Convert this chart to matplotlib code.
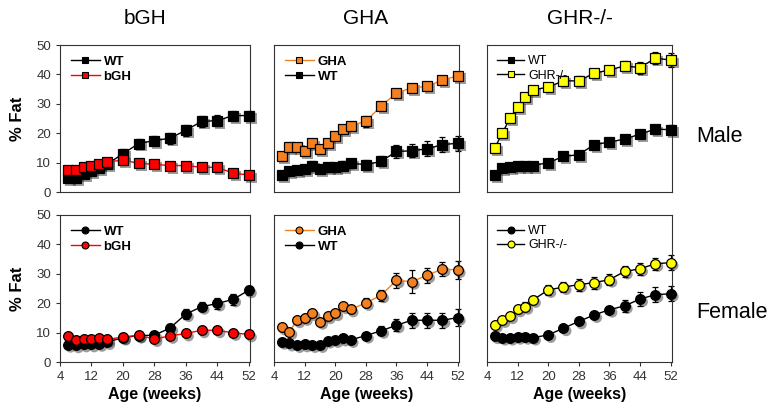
"""
% Fat over age for bGH, GHA and GHR-/- mice (male / female)
"""

import matplotlib.pyplot as plt
import matplotlib.patheffects as pe
from matplotlib.lines import Line2D

plt.rcParams['font.family'] = ['Liberation Sans', 'DejaVu Sans']

# %% data

weeks_a = [6, 8, 10, 12, 14, 16, 20, 24, 28, 32, 36, 40, 44, 48, 52]
weeks_b = [6, 8, 10, 12, 14, 16, 18, 20, 22, 24, 28, 32, 36, 40, 44, 48, 52]

# male
wt_bgh_m = [4.8, 4.8, 6.0, 7.0, 8.0, 9.5, 13.0, 16.5, 17.5, 18.3, 21.0, 24.0, 24.3, 26.0, 26.0]
wt_bgh_m_err = [0.5, 0.5, 0.6, 0.7, 0.8, 1.0, 1.5, 1.5, 1.5, 1.8, 1.8, 1.8, 1.8, 1.5, 1.5]
bgh_m = [7.5, 7.5, 8.6, 9.0, 9.4, 10.3, 10.8, 9.8, 9.4, 9.0, 9.0, 8.4, 8.4, 6.4, 5.8]
bgh_m_err = [0.5, 0.5, 0.6, 0.5, 0.6, 0.6, 1.5, 0.8, 0.7, 0.8, 0.8, 0.8, 1.5, 0.8, 0.6]

gha_m = [12.4, 15.3, 15.3, 14.0, 16.6, 14.6, 16.6, 18.9, 21.5, 22.6, 24.0, 29.3, 33.6, 35.5, 35.9, 38.1, 39.5]
gha_m_err = [0.7, 0.8, 0.8, 0.8, 0.9, 0.9, 0.9, 1.0, 1.0, 1.0, 2.0, 1.0, 1.0, 1.0, 1.0, 1.0, 1.2]
wt_gha_m = [5.7, 7.0, 7.6, 7.8, 8.9, 7.8, 8.4, 8.4, 8.9, 9.8, 9.3, 10.4, 13.8, 14.0, 14.7, 16.1, 16.6]
wt_gha_m_err = [0.6, 1.0, 1.0, 1.0, 1.5, 1.5, 1.5, 1.5, 1.5, 1.5, 1.7, 1.7, 2.2, 2.2, 2.5, 2.5, 2.5]

ghr_m = [14.9, 20.0, 25.1, 29.0, 32.2, 34.7, 35.7, 37.8, 37.8, 40.4, 41.5, 42.9, 42.3, 45.5, 44.9]
ghr_m_err = [0.8, 0.8, 0.9, 1.0, 1.2, 1.5, 1.5, 1.6, 1.6, 1.6, 1.5, 1.5, 2.0, 2.0, 2.3]
wt_ghr_m = [5.8, 8.0, 8.4, 8.8, 8.8, 9.0, 10.0, 12.1, 12.7, 16.1, 17.0, 18.0, 19.7, 21.4, 21.2]
wt_ghr_m_err = [0.5, 0.6, 0.6, 0.6, 0.6, 0.7, 1.2, 1.0, 1.2, 1.4, 0.8, 0.8, 1.0, 1.5, 1.5]

# female
wt_bgh_f = [5.9, 5.7, 6.0, 6.0, 6.2, 6.8, 8.3, 9.0, 9.1, 11.6, 16.3, 18.8, 19.9, 21.3, 24.4]
wt_bgh_f_err = [0.4, 0.4, 0.4, 0.4, 0.5, 0.5, 0.8, 1.0, 1.0, 1.2, 1.8, 1.5, 1.8, 1.8, 1.5]
bgh_f = [8.7, 7.4, 7.8, 7.8, 8.3, 7.7, 8.5, 9.1, 7.8, 8.9, 9.7, 10.8, 10.8, 9.9, 9.4]
bgh_f_err = [0.5, 0.5, 0.5, 0.5, 0.5, 0.5, 0.5, 0.6, 0.6, 0.6, 0.6, 0.6, 0.6, 0.6, 0.6]

gha_f = [11.8, 10.3, 14.2, 15.0, 16.6, 13.7, 15.6, 16.6, 19.0, 17.9, 20.1, 22.7, 27.8, 27.3, 29.5, 31.6, 31.3]
gha_f_err = [0.8, 0.8, 0.9, 0.9, 0.9, 0.9, 0.9, 0.9, 1.0, 1.0, 1.5, 1.8, 2.5, 4.0, 2.5, 2.5, 3.0]
wt_gha_f = [6.9, 6.3, 5.8, 6.0, 5.8, 5.8, 7.3, 7.5, 8.0, 7.5, 9.0, 10.6, 12.5, 14.2, 14.2, 14.2, 15.1]
wt_gha_f_err = [0.5, 0.5, 0.5, 0.5, 0.5, 0.6, 0.7, 0.7, 0.8, 0.8, 1.0, 1.5, 2.0, 2.5, 2.5, 2.5, 3.0]

ghr_f = [12.6, 14.3, 15.6, 17.9, 18.8, 21.1, 24.5, 25.5, 26.3, 27.0, 28.0, 30.8, 31.7, 33.4, 33.8]
ghr_f_err = [0.8, 0.8, 1.0, 1.2, 1.5, 1.5, 1.8, 1.8, 2.0, 2.0, 1.8, 2.0, 2.0, 2.0, 2.5]
wt_ghr_f = [8.8, 8.3, 8.3, 8.6, 8.6, 8.3, 9.2, 11.5, 13.8, 16.0, 17.8, 19.1, 21.4, 22.9, 23.2]
wt_ghr_f_err = [0.4, 0.4, 0.4, 0.4, 0.4, 0.4, 0.7, 0.6, 0.6, 0.8, 1.0, 2.0, 2.5, 2.5, 2.5]

col_titles = ['bGH', 'GHA', 'GHR-/-']
row_titles = ['Male', 'Female']
xticks = [4, 12, 20, 28, 36, 44, 52]
yticks = [0, 10, 20, 30, 40, 50]

RED = '#ff0000'
ORANGE = '#f5801f'
YELLOW = '#ffff00'

# %% helpers


def plot_series(ax, x, y, err, line_c, face_c, marker):
    ax.errorbar(x, y, yerr=err, fmt='none', ecolor='black', elinewidth=0.9,
                capsize=2.5, capthick=0.9, zorder=2, clip_on=False)
    # drop shadow under the markers
    ax.plot(x, y, ls='none', marker=marker, ms=7.5, mfc='gray', mec='none',
            zorder=1, clip_on=False,
            path_effects=[pe.SimplePatchShadow(offset=(2, -2), alpha=0.45)])
    ax.plot(x, y, '-', color=line_c, lw=1.0, marker=marker, ms=7,
            mfc=face_c, mec='black', mew=0.9, zorder=3, clip_on=False)


def legend(ax, entries, bold, fs=9.5):
    handles = [Line2D([], [], color=lc, lw=1.0, marker=m, ms=5, mfc=fc,
                      mec='black', mew=0.8) for lc, fc, m, _ in entries]
    labels = [lab for *_, lab in entries]
    ax.legend(handles, labels, loc='upper left', frameon=False,
              handlelength=2.2, handletextpad=0.3, labelspacing=0.2,
              borderaxespad=0.4,
              prop={'weight': 'bold' if bold else 'normal', 'size': fs})


def setup(ax, left, bottom):
    ax.set_xlim(4, 52.3)
    ax.set_ylim(0, 50)
    for s in ax.spines.values():
        s.set_linewidth(0.8)
        s.set_color('#333333')
    ax.tick_params(direction='out', length=3, width=0.8, labelsize=9.5,
                   colors='#333333', labelcolor='#333333')
    if left:
        ax.set_yticks(yticks)
        ax.set_ylabel('% Fat', fontsize=12, fontweight='bold', labelpad=8)
    else:
        ax.set_yticks([])
    if bottom:
        ax.set_xticks(xticks)
        ax.set_xlabel('Age (weeks)', fontsize=11.5, fontweight='bold', labelpad=3)
    else:
        ax.set_xticks([])


# %% figure

fig = plt.figure(figsize=(7.73, 4.11), dpi=100)

lefts = [0.0776, 0.3545, 0.630]
widths = [0.2458, 0.2390, 0.2390]
bottoms = [0.5328, 0.1192]
h = 0.3577

axes = [[fig.add_axes([lefts[c], bottoms[r], widths[c], h]) for c in range(3)]
        for r in range(2)]

# male row, square markers
ax = axes[0][0]
setup(ax, True, False)
plot_series(ax, weeks_a, wt_bgh_m, wt_bgh_m_err, 'black', 'black', 's')
plot_series(ax, weeks_a, bgh_m, bgh_m_err, RED, RED, 's')
legend(ax, [('black', 'black', 's', 'WT'), (RED, RED, 's', 'bGH')], True)

ax = axes[0][1]
setup(ax, False, False)
plot_series(ax, weeks_b, wt_gha_m, wt_gha_m_err, 'black', 'black', 's')
plot_series(ax, weeks_b, gha_m, gha_m_err, ORANGE, ORANGE, 's')
legend(ax, [(ORANGE, ORANGE, 's', 'GHA'), ('black', 'black', 's', 'WT')], True)

ax = axes[0][2]
setup(ax, False, False)
plot_series(ax, weeks_a, wt_ghr_m, wt_ghr_m_err, 'black', 'black', 's')
plot_series(ax, weeks_a, ghr_m, ghr_m_err, 'black', YELLOW, 's')
legend(ax, [('black', 'black', 's', 'WT'), ('black', YELLOW, 's', 'GHR-/-')], False, 9)

# female row, circle markers
ax = axes[1][0]
setup(ax, True, True)
plot_series(ax, weeks_a, wt_bgh_f, wt_bgh_f_err, 'black', 'black', 'o')
plot_series(ax, weeks_a, bgh_f, bgh_f_err, RED, RED, 'o')
legend(ax, [('black', 'black', 'o', 'WT'), (RED, RED, 'o', 'bGH')], True)

ax = axes[1][1]
setup(ax, False, True)
plot_series(ax, weeks_b, wt_gha_f, wt_gha_f_err, 'black', 'black', 'o')
plot_series(ax, weeks_b, gha_f, gha_f_err, ORANGE, ORANGE, 'o')
legend(ax, [(ORANGE, ORANGE, 'o', 'GHA'), ('black', 'black', 'o', 'WT')], True)

ax = axes[1][2]
setup(ax, False, True)
plot_series(ax, weeks_a, wt_ghr_f, wt_ghr_f_err, 'black', 'black', 'o')
plot_series(ax, weeks_a, ghr_f, ghr_f_err, 'black', YELLOW, 'o')
legend(ax, [('black', 'black', 'o', 'WT'), ('black', YELLOW, 'o', 'GHR-/-')], False, 9)

# column / row titles
for x, t in zip([145 / 773, 366 / 773, 580 / 773], col_titles):
    fig.text(x, 1 - 19 / 411, t, ha='center', va='center', fontsize=15)
fig.text(696 / 773, 1 - 137 / 411, row_titles[0], ha='left', va='center', fontsize=15.5)
fig.text(696 / 773, 1 - 313 / 411, row_titles[1], ha='left', va='center', fontsize=15.5)

fig.savefig('out.png', dpi=100)
